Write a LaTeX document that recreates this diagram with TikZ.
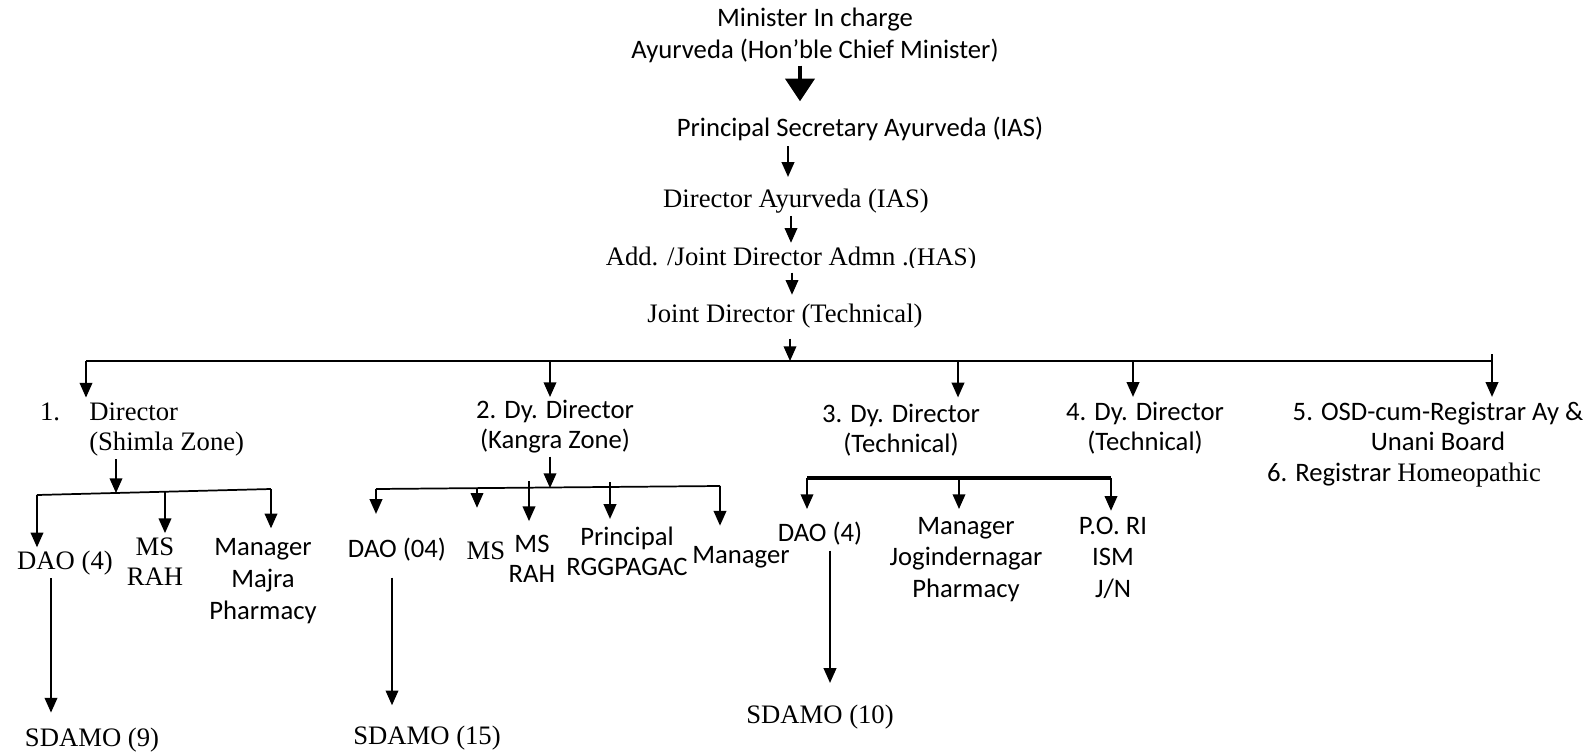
\documentclass[tikz,border=0pt]{standalone}
\usepackage{fontspec}
\setmainfont{Liberation Serif}
\newfontfamily\calibri{Carlito}
\usetikzlibrary{arrows.meta, positioning, calc}

\tikzset{
    serif txt/.style={
        inner sep=0pt,
        align=center,
        anchor=base,
        font=\fontsize{20}{22.5}\selectfont
    },
    sans txt/.style={
        serif txt,
        font=\calibri\fontsize{20}{22.5}\selectfont
    },
    arr/.style={
        -{Triangle[length=11pt, width=9.5pt]},
        line width=1.1pt
    },
    big arr/.style={
        -{Triangle[length=17pt, width=22pt]},
        line width=2.4pt
    },
    bar/.style={
        line width=1.3pt
    }
}

\begin{document}
\begin{tikzpicture}[x=0.75pt, y=-0.75pt]
\useasboundingbox (0,0) rectangle (1587,756);

% Chain from the minister down (multi-line nodes sit on their last line)
\node[sans txt] (minister) at (815,59) {Minister In charge\\[2pt]Ayurveda (Hon’ble Chief Minister)};
\node[sans txt] (psec) at (860,137) {Principal Secretary Ayurveda (IAS)};
\node[serif txt] (dirayur) at (796,207) {Director Ayurveda (IAS)};
\begin{scope}
    \clip (560,225) rectangle (1000,267);
    \node[serif txt] (addjd) at (791,265) {Add. /Joint Director Admn .{\fontsize{19}{21}\selectfont(HAS)}};
\end{scope}
\node[serif txt] (jdtech) at (785,322) {Joint Director (Technical)};

\coordinate (s0) at (800,0);
\coordinate (s1) at (788,0);
\coordinate (s2) at (791,0);
\coordinate (s3) at (792,0);
\coordinate (s4) at (790,361);

\draw[big arr, shorten <=1.5pt, shorten >=12pt] (s0 |- minister.south) -- (s0 |- psec.north);
\draw[arr, shorten <=3.5pt, shorten >=8.5pt] (s1 |- psec.south) -- (s1 |- dirayur.north);
\draw[arr, shorten <=2.2pt, shorten >=2.6pt] (s2 |- dirayur.south) -- (s2 |- addjd.north);
\draw[arr, shorten <=1.5pt, shorten >=6.4pt] (s3 |- addjd.south) -- (s3 |- jdtech.north);
\draw[arr, shorten <=8pt] (s4 |- jdtech.south) -- (s4);

% Second level
\node[serif txt] (num1) at (50,420) {1.};
\node[serif txt, anchor=base west, align=left] (dir1) at (89,450) {Director\\(Shimla Zone)};
\node[sans txt] (dir2) at (555,448) {2. Dy. Director\\(Kangra Zone)};
\node[sans txt] (dir3) at (901,452) {3. Dy. Director\\(Technical)};
\node[sans txt] (dir4) at (1145,450) {4. Dy. Director\\(Technical)};
\node[sans txt] (osd) at (1438,450) {5. OSD-cum-Registrar Ay \&\\Unani Board};
\node[sans txt] (reghom) at (1404,481) {6. Registrar {\rmfamily Homeopathic}};

\coordinate (b1) at (86,361);
\coordinate (b2) at (550,361);
\coordinate (b3) at (958,361);
\coordinate (b4) at (1133,361);
\coordinate (b5) at (1492,354);

\draw[bar] (b1) -- (b5 |- b1) -- (b5);
\foreach \b/\n/\s in {b1/dir1/3.4, b2/dir2/1.8, b3/dir3/4.5, b4/dir4/3.4, b5/osd/3.4}
    \draw[arr, shorten >=\s pt] (\b) -- (\b |- \n.north);

% Shimla zone
\node[serif txt] (dao1) at (65,569) {DAO (4)};
\node[serif txt] (ms1) at (155,585) {MS\\RAH};
\node[sans txt] (mgr1) at (263,619) {Manager\\[1.5pt]Majra\\[1.5pt]Pharmacy};
\node[serif txt] (sdamo1) at (92,746) {SDAMO (9)};

\coordinate (g1) at (116,493);
\coordinate (g1l) at (37,495);
\coordinate (g1m) at (165,492);
\coordinate (g1r) at (271,489);
\coordinate (v1) at (51,0);

\draw[arr, shorten <=2.5pt] (g1 |- dir1.south) -- (g1);
\draw[bar] (g1l) -- (g1r);
\draw[arr, shorten >=2.2pt] (g1l) -- (g1l |- dao1.north);
\draw[arr, shorten >=3pt] (g1m) -- (g1m |- ms1.north);
\draw[arr, shorten >=7pt] (g1r) -- (g1r |- mgr1.north);
\draw[arr, shorten <=2.5pt, shorten >=11pt] (v1 |- dao1.south) -- (v1 |- sdamo1.north);

% Kangra zone
\node[sans txt] (dao2) at (397,557) {DAO (04)};
\node[serif txt] (ms2) at (486,559) {MS};
\node[sans txt] (msrah2) at (532,582) {MS\\RAH};
\node[sans txt] (prin2) at (627,575) {Principal\\RGGPAGAC};
\node[sans txt] (mgr2) at (741,563) {Manager};
\node[serif txt] (sdamo2) at (427,744) {SDAMO (15)};

\coordinate (g2) at (550,488);
\coordinate (g2a) at (376,489);
\coordinate (g2b) at (477,488);
\coordinate (g2c) at (529,481);
\coordinate (g2d) at (610,482);
\coordinate (g2e) at (720,486);
\coordinate (v2) at (392,0);

\draw[arr, shorten <=2.8pt] (g2 |- dir2.south) -- (g2);
\draw[bar] (g2a) -- (g2e);
\draw[arr, shorten >=17.5pt] (g2a) -- (g2a |- dao2.north);
\draw[arr, shorten >=25pt] (g2b) -- (g2b |- ms2.north);
\draw[arr, shorten >=10pt] (g2c) -- (g2c |- msrah2.north);
\draw[arr, shorten >=5.5pt] (g2d) -- (g2d |- prin2.north);
\draw[arr, shorten >=15pt] (g2e) -- (g2e |- mgr2.north);
\draw[arr, shorten <=12.5pt, shorten >=15pt] (v2 |- dao2.south) -- (v2 |- sdamo2.north);

% Technical
\node[sans txt] (dao3) at (820,541) {DAO (4)};
\node[sans txt] (mgr3) at (966,597) {Manager\\[1pt]Jogindernagar\\[1pt]Pharmacy};
\node[sans txt] (po3) at (1113,597) {P.O. RI\\[1pt]ISM\\[1pt]J/N};
\node[serif txt] (sdamo3) at (820,723) {SDAMO (10)};

\coordinate (g3l) at (807,478);
\coordinate (g3m) at (959,478);
\coordinate (g3r) at (1111,478);
\coordinate (v3) at (830,0);

\draw[line width=2.6pt] (g3l) -- (g3r);
\draw[arr, shorten >=9.2pt] (g3l) -- (g3l |- dao3.north);
\draw[arr, shorten >=6pt] (g3m) -- (g3m |- mgr3.north);
\draw[arr, shorten >=4.5pt] (g3r) -- (g3r |- po3.north);
\draw[arr, shorten <=4.3pt, shorten >=16pt] (v3 |- dao3.south) -- (v3 |- sdamo3.north);

\end{tikzpicture}
\end{document}
